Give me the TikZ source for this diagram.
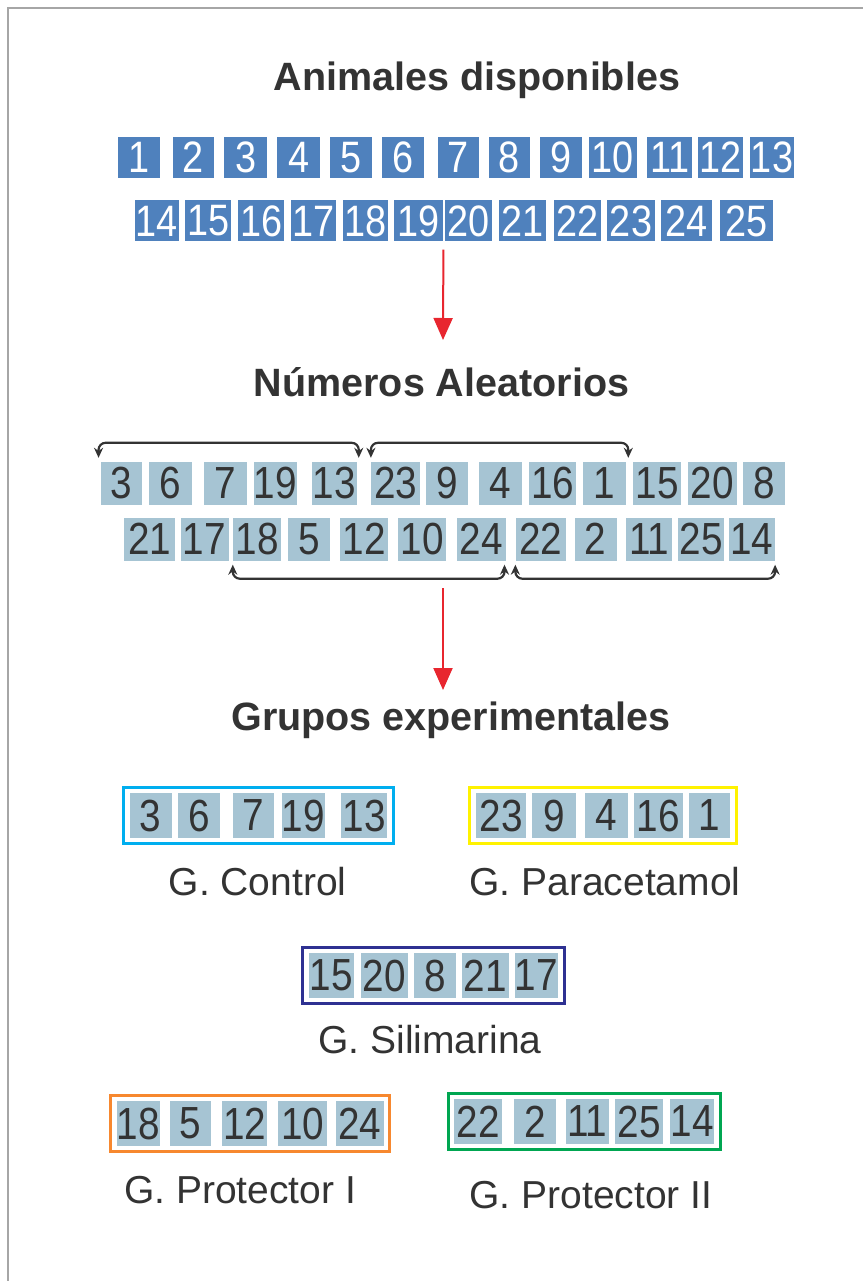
\documentclass[tikz,border=0pt]{standalone}
\usepackage{fontspec}
\setmainfont{Liberation Sans}
\usetikzlibrary{arrows.meta,positioning,fit}

\definecolor{animblue}{HTML}{4F81BD}
\definecolor{cellgray}{HTML}{A6C4D3}
\definecolor{inkdark}{HTML}{333333}
\definecolor{arrred}{HTML}{E8262F}
\definecolor{ctlcyan}{HTML}{00AEEF}
\definecolor{parayel}{HTML}{FFF200}
\definecolor{silnavy}{HTML}{2E3192}
\definecolor{protorange}{HTML}{F7882F}
\definecolor{protgreen}{HTML}{00A651}

\newcommand{\nr}[1]{\scalebox{0.86}[1]{#1}}

\begin{document}
\begin{tikzpicture}[x=1pt, y=-1pt,
  ttl/.style={font=\bfseries\fontsize{39.5}{39.5}\selectfont, text=inkdark, inner sep=0pt, anchor=base},
  lbl/.style={font=\fontsize{39}{39}\selectfont, text=inkdark, inner sep=0pt, anchor=base},
  animcell/.style={fill=animblue, text=white, minimum height=41pt, inner sep=0pt, font=\fontsize{44}{44}\selectfont},
  randcell/.style={fill=cellgray, text=inkdark, minimum height=43pt, inner sep=0pt, font=\fontsize{45}{45}\selectfont},
  grpcell/.style={randcell, minimum height=45pt},
  grpbox/.style={draw, line width=3pt, inner xsep=6pt, inner ysep=5pt},
  brk/.style={draw=inkdark, line width=2.2pt, rounded corners=7pt, {Stealth[length=10pt,width=9pt]}-{Stealth[length=10pt,width=9pt]}},
  redarr/.style={draw=arrred, line width=2pt, -{Triangle[length=22pt,width=19pt]}}
]
\fill[white] (0,0) rectangle (863,1281);
\useasboundingbox (0,0) rectangle (863,1281);
\draw[gray!70, line width=2pt] (8,1281) -- (8,8) -- (863,8);

% animales disponibles
\node[ttl] (t1) at (477,91) {Animales disponibles};
\foreach \n/\x/\w in {1/138.7/42.4, 2/193.5/41.5, 3/245.6/42.4, 4/298.8/42.9, 5/351.1/41.5, 6/403/42,
  7/458.5/41.5, 8/509.3/41.5, 9/560.8/41.6, 10/612.7/48.4, 11/669.8/44.7, 12/720.5/44.7, 13/772/44.7}
  \node[animcell, minimum width=\w pt] (a\n) at (\x,157.5) {\nr{\n}};
\foreach \n/\x/\w in {14/157/44.7, 15/208.3/46, 16/261.3/46, 17/313.6/44.7, 18/365.7/44.7, 19/418.7/49,
  20/468.2/47, 21/522.3/47.5, 22/577.6/47.5, 23/631/48.4, 24/686.6/50.7, 25/746.3/53}
  \node[animcell, minimum width=\w pt] (a\n) at (\x,221) {\nr{\n}};
\coordinate (e1) at (443,340);
\draw[redarr] ([yshift=-8pt]a19.south east) -- (e1);

% numeros aleatorios
\node[ttl] (t2) at (441.5,396) {Números Aleatorios};
\foreach \n/\x/\w in {3/121.5/41.5, 6/170.3/42.4, 7/225.6/42.4, 19/275.2/43, 13/334.2/44.7, 23/395.6/49,
  9/446.8/42.4, 4/500/43, 16/552.8/47, 1/604.6/43, 15/657.2/48.4, 20/712.5/48.4, 8/763.9/42.4}
  \node[randcell, minimum width=\w pt] (r\n) at (\x,483.5) {\nr{\n}};
\foreach \n/\x/\w in {21/149.6/51.6, 17/204.5/48, 18/257.2/48.4, 5/309.3/42, 12/364.1/47.4, 10/422.2/48.4,
  24/481.4/49.8, 22/540.9/50.7, 2/595.7/42.4, 11/649.1/46, 25/701.2/46, 14/751.9/46}
  \node[randcell, minimum width=\w pt] (r\n) at (\x,539) {\nr{\n}};
\draw[brk] ([shift={(-2pt,4pt)}]r3.north west) -- ([shift={(-2pt,19pt)}]r3.north west)
  -- ([shift={(2pt,19pt)}]r13.north east) -- ([shift={(2pt,4pt)}]r13.north east);
\draw[brk] ([yshift=4pt]r23.north west) -- ([yshift=19pt]r23.north west)
  -- ([shift={(2pt,19pt)}]r1.north east) -- ([shift={(2pt,4pt)}]r1.north east);
\draw[brk] ([yshift=-4pt]r18.south west) -- ([yshift=-18pt]r18.south west)
  -- ([shift={(-2pt,-18pt)}]r24.south east) -- ([shift={(-2pt,-4pt)}]r24.south east);
\draw[brk] ([yshift=-4pt]r22.south west) -- ([yshift=-18pt]r22.south west)
  -- ([yshift=-18pt]r14.south east) -- ([yshift=-4pt]r14.south east);
\coordinate (s2) at (443,588);
\coordinate (e2) at (443,690);
\draw[redarr] (s2) -- (e2);

% grupos experimentales
\node[ttl] (t3) at (451,730) {Grupos experimentales};
\foreach \n/\x/\w in {3/150.7/42.1, 6/199/41.3, 7/253.3/41.3, 19/303.3/41.3, 13/364.2/45.7}
  \node[grpcell, minimum width=\w pt] (gc\n) at (\x,815.5) {\nr{\n}};
\node[grpbox, draw=ctlcyan, fit=(gc3)(gc13)] (gctl) {};
\node[lbl] (lctl) at (257.6,895) {G. Control};
\foreach \n/\x/\w in {23/501/50, 9/553.9/44.3, 4/606.5/43.5, 16/658.3/48.7, 1/709.7/41.4}
  \node[grpcell, minimum width=\w pt] (gp\n) at (\x,815.5) {\nr{\n}};
\node[grpbox, draw=parayel, fit=(gp23)(gp1)] (gpar) {};
\node[lbl] (lpar) at (605,895) {G. Paracetamol};
\foreach \n/\x/\w in {15/331.5/45.6, 20/384.3/47, 8/434.8/41.8, 21/485.2/47, 17/536.3/42.2}
  \node[grpcell, minimum width=\w pt] (gs\n) at (\x,975.5) {\nr{\n}};
\node[grpbox, draw=silnavy, fit=(gs15)(gs17)] (gsil) {};
\node[lbl] (lsil) at (430,1053) {G. Silimarina};
\foreach \n/\x/\w in {18/138.3/43.5, 5/190.2/41.3, 12/244.6/45.7, 10/302.6/48.7, 24/359.8/47.4}
  \node[grpcell, minimum width=\w pt] (ga\n) at (\x,1123.5) {\nr{\n}};
\node[grpbox, draw=protorange, fit=(ga18)(ga24)] (gpr1) {};
\node[lbl] (lpr1) at (240,1203) {G. Protector I};
\foreach \n/\x/\w in {22/478.3/47.8, 2/534.8/41.8, 11/587.4/42.6, 25/639.1/47.8, 14/692/44.8}
  \node[grpcell, minimum width=\w pt] (gb\n) at (\x,1121.5) {\nr{\n}};
\node[grpbox, draw=protgreen, fit=(gb22)(gb14)] (gpr2) {};
\node[lbl] (lpr2) at (591,1208) {G. Protector II};
\end{tikzpicture}
\end{document}
